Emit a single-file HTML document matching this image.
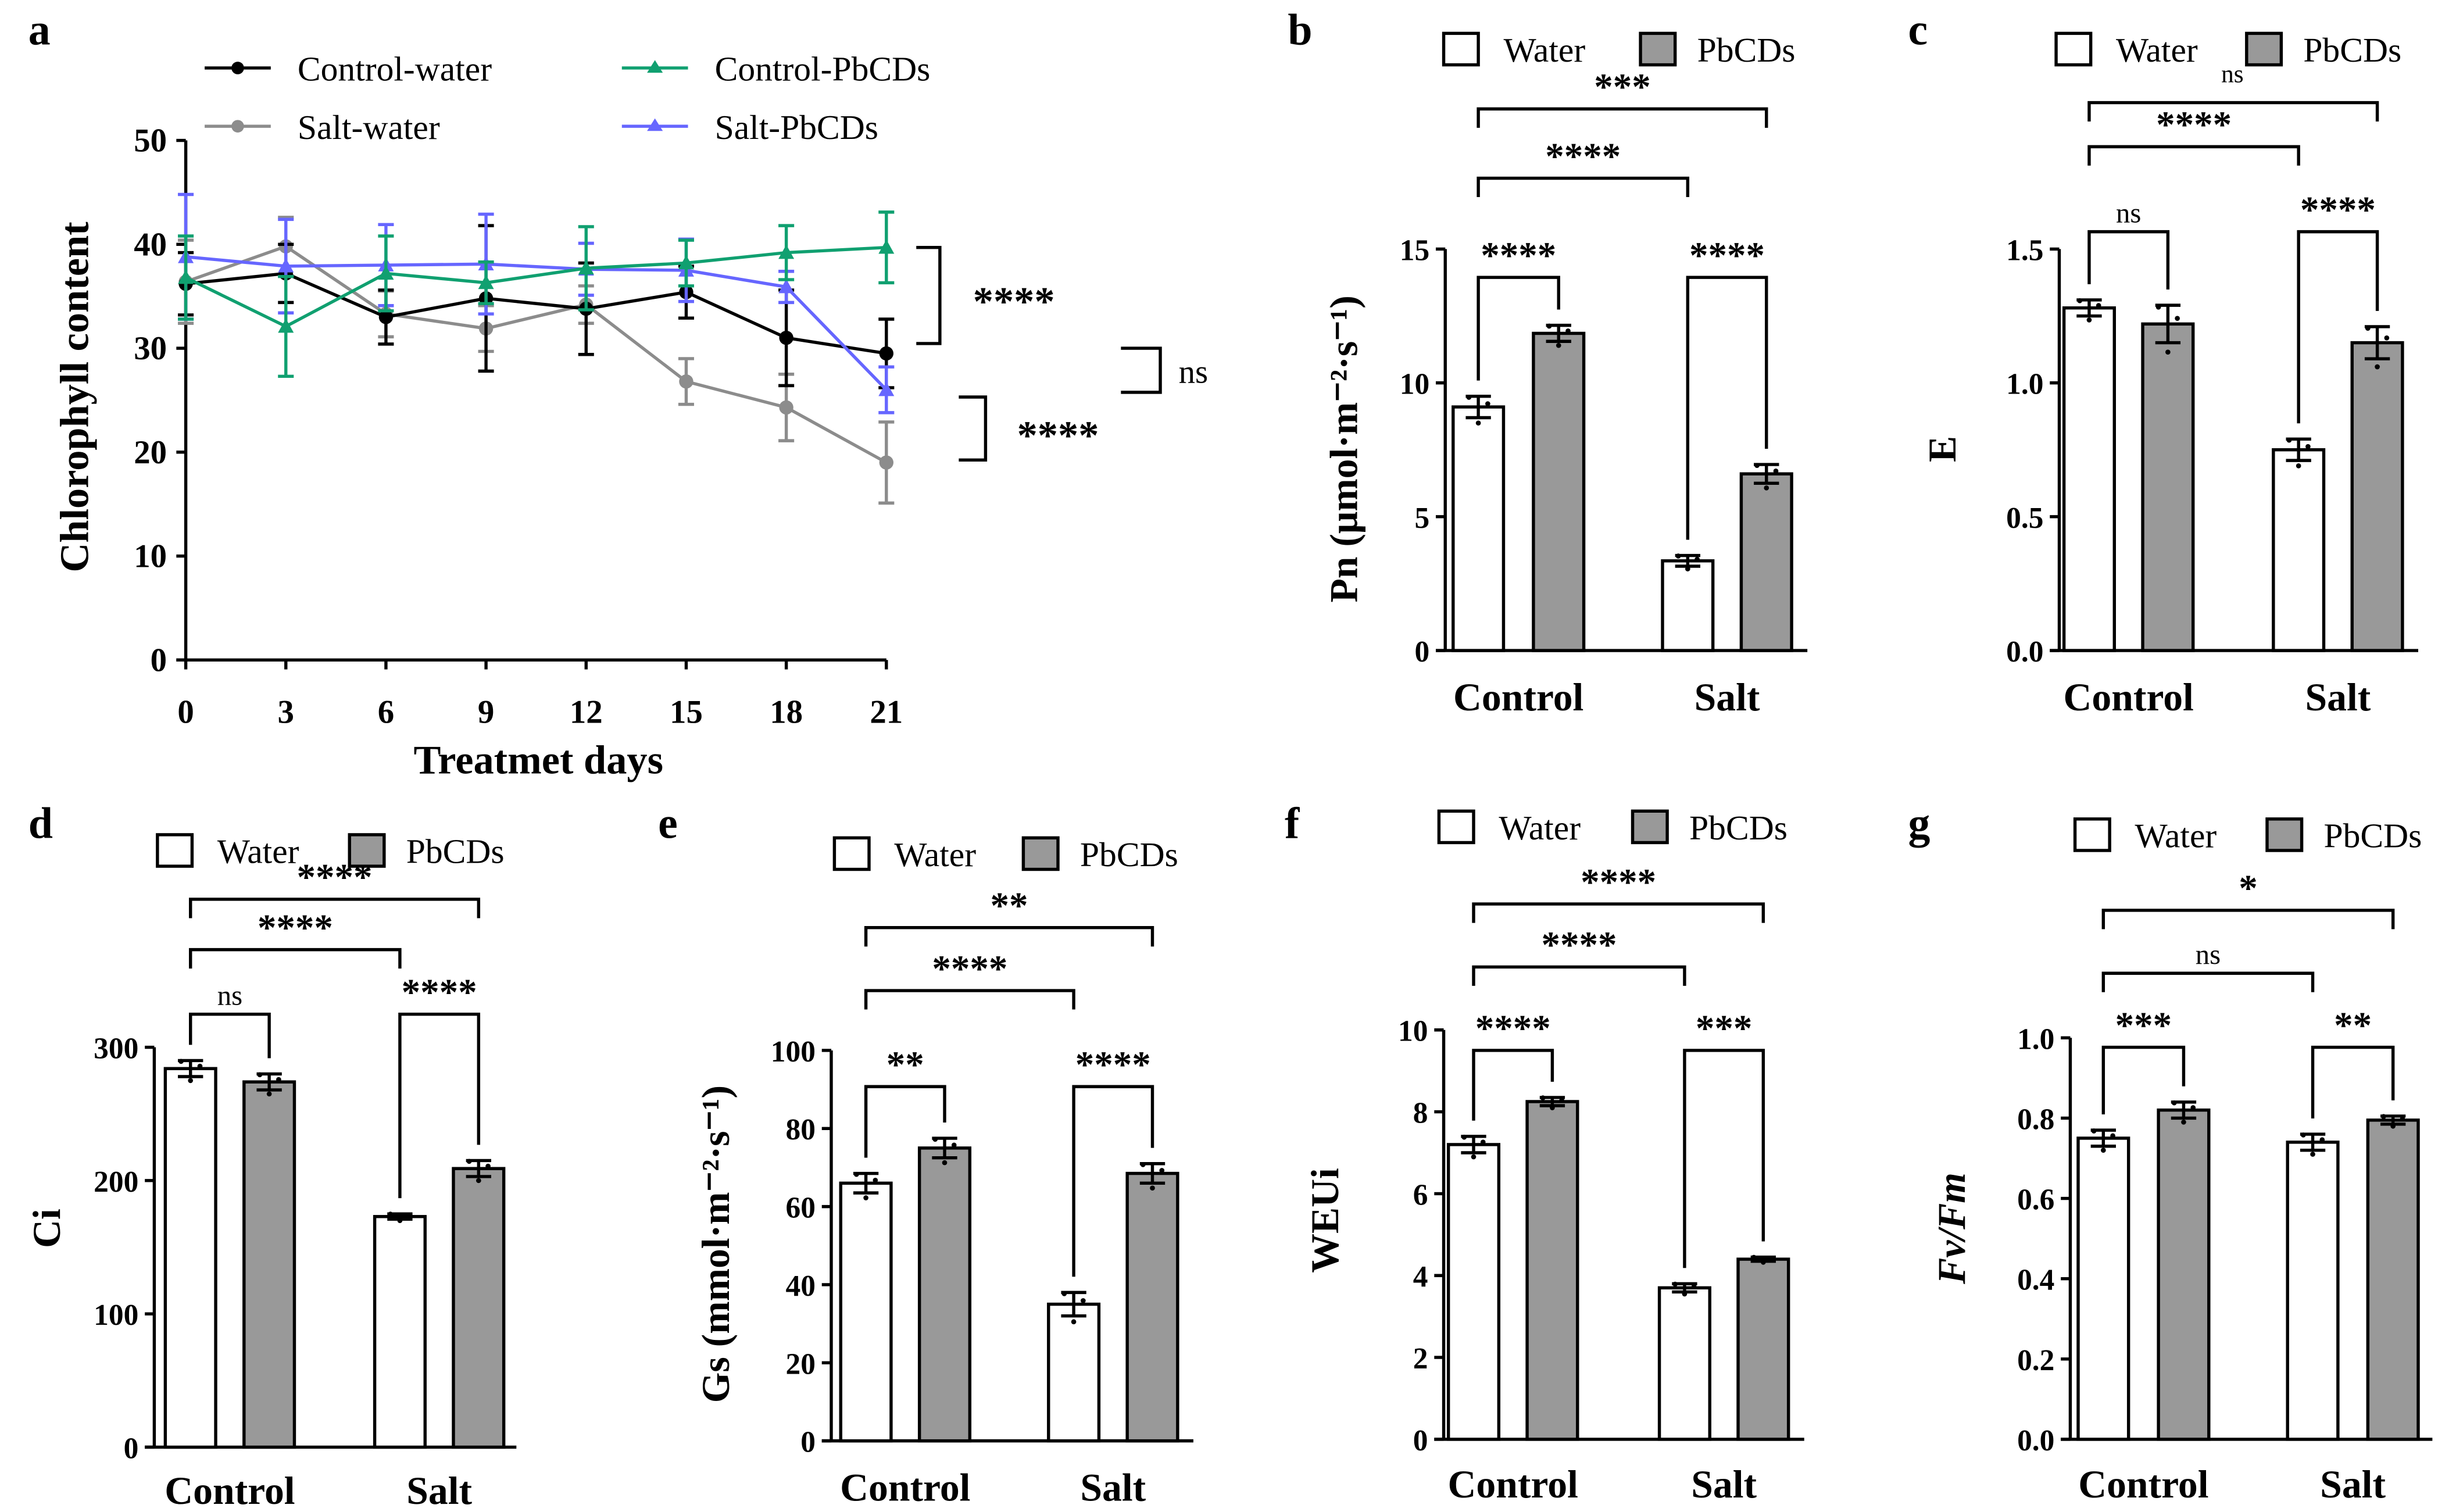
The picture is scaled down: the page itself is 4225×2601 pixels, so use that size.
<!DOCTYPE html>
<html><head><meta charset="utf-8"><style>
html,body{margin:0;padding:0;background:#fff}
svg{display:block}
text{font-family:"Liberation Serif",serif}
</style></head><body>
<svg id="fig" xmlns="http://www.w3.org/2000/svg" width="4225" height="2601" viewBox="0 0 1560 960"></svg>
<script>
// ---- Panel a data ----
const days=[0,3,6,9,12,15,18,21];
const aTicks=[0,10,20,30,40,50];
const cwVals=[36.2,37.2,33,34.8,33.8,35.4,31,29.5];
const cwErr=[3,2.8,2.6,7,4.4,2.5,4.6,3.3];
const swVals=[36.4,39.8,33.3,31.9,34.2,26.8,24.3,19];
const swErr=[4,2.8,2.2,2.2,1.8,2.2,3.2,3.9];
const cpVals=[36.8,32.1,37.2,36.3,37.7,38.2,39.2,39.7];
const cpErr=[4,4.8,3.6,2,4,2.2,2.6,3.4];
const spVals=[38.8,37.9,38,38.1,37.6,37.5,35.9,26];
const spErr=[6,4.5,3.9,4.8,2.5,3,1.5,2.2];
// ---- Bar panels data (order: Control-Water, Control-PbCDs, Salt-Water, Salt-PbCDs) ----
const groups=["Control","Salt"];
const pnVals=[9.1,11.85,3.35,6.6], pnErr=[0.4,0.3,0.2,0.35], pnTicks=[0,5,10,15];
const eVals=[1.28,1.22,0.75,1.15], eErr=[0.03,0.07,0.04,0.06], eTicks=[0,0.5,1.0,1.5];
const ciVals=[284,274,173,209], ciErr=[6,6,2,6], ciTicks=[0,100,200,300];
const gsVals=[66,75,35,68.5], gsErr=[2.5,2.5,3,2.5], gsTicks=[0,20,40,60,80,100];
const wuVals=[7.2,8.25,3.7,4.4], wuErr=[0.2,0.1,0.1,0.05], wuTicks=[0,2,4,6,8,10];
const fvVals=[0.75,0.82,0.74,0.795], fvErr=[0.02,0.02,0.02,0.01], fvTicks=[0,0.2,0.4,0.6,0.8,1.0];

const NS="http://www.w3.org/2000/svg";
const svg=document.getElementById('fig');
function el(tag,attrs,parent,txt){const e=document.createElementNS(NS,tag);for(const k in attrs)e.setAttribute(k,attrs[k]);if(txt!==undefined)e.textContent=txt;(parent||svg).appendChild(e);return e;}
function grp(name,parent){const g=el('g',{},parent);return g;}
function txt(g,x,y,s,size,opts){opts=opts||{};const t=el('text',{x:x,y:y,'font-size':size,'text-anchor':opts.anchor||'middle','font-weight':opts.bold?'bold':'normal','font-style':opts.italic?'italic':'normal',fill:'#000'},g,s);if(opts.rot)t.setAttribute('transform',`rotate(-90 ${x} ${y})`);return t;}
function line(g,x1,y1,x2,y2,c,w){return el('line',{x1,y1,x2,y2,stroke:c||'#000','stroke-width':w||2},g);}

// panel letters
[['a',18,28],['b',818,28],['c',1212,28],['d',18,532],['e',418,532],['f',816,532],['g',1212,532]].forEach(p=>{txt(svg,p[1],p[2],p[0],28,{bold:true,anchor:'start',name:'panel-letter-'+p[0]});});

// ---- Panel a ----
(function(){
const g=grp('chlorophyll-chart');
const x0=118,x1=563,y0=419,y1=89;
const X=d=>x0+(d-0)/(21)*(x1-x0);
const Y=v=>y0-(v/50)*(y0-y1);
line(g,x0,Y(50),x0,y0);line(g,x0-6,y0,x1,y0);
aTicks.forEach(t=>{line(g,x0-6,Y(t),x0,Y(t));txt(g,x0-12,Y(t)+7,String(t),21,{bold:true,anchor:'end',name:'y-tick'});});
days.forEach(d=>{line(g,X(d),y0,X(d),y0+6);txt(g,X(d),y0+40,String(d),21,{bold:true,name:'x-tick'});});
txt(g,342,491,'Treatmet days',26,{bold:true,name:'x-axis-title'});
txt(g,56,252,'Chlorophyll content',26,{bold:true,rot:true,name:'y-axis-title'});
const series=[
 {n:'salt-water',v:swVals,e:swErr,c:'#8c8c8c',m:'c'},
 {n:'control-water',v:cwVals,e:cwErr,c:'#000',m:'c'},
 {n:'salt-pbcds',v:spVals,e:spErr,c:'#6666ff',m:'t'},
 {n:'control-pbcds',v:cpVals,e:cpErr,c:'#10a070',m:'t'}];
series.forEach(s=>{
 const sg=grp('series-'+s.n,g);
 let d='';s.v.forEach((v,i)=>{d+=(i?'L':'M')+X(days[i])+','+Y(v);});
 el('path',{d,fill:'none',stroke:s.c,'stroke-width':2},sg);
 s.v.forEach((v,i)=>{const x=X(days[i]);
  line(sg,x,Y(v+s.e[i]),x,Y(v-s.e[i]),s.c,2);
  line(sg,x-5,Y(v+s.e[i]),x+5,Y(v+s.e[i]),s.c,2);line(sg,x-5,Y(v-s.e[i]),x+5,Y(v-s.e[i]),s.c,2);
  if(s.m==='c')el('circle',{cx:x,cy:Y(v),r:4.5,fill:s.c},sg);
  else el('path',{d:`M${x},${Y(v)-5}L${x+5},${Y(v)+4}L${x-5},${Y(v)+4}Z`,fill:s.c},sg);
 });
});
// legend
const lg=grp('legend',g);
[[130,43,'#000','c','Control-water'],[130,80,'#8c8c8c','c','Salt-water'],[395,43,'#10a070','t','Control-PbCDs'],[395,80,'#6666ff','t','Salt-PbCDs']].forEach(l=>{
 const eg=grp('legend-entry',lg);line(eg,l[0],l[1],l[0]+42,l[1],l[2],2);
 if(l[3]==='c')el('circle',{cx:l[0]+21,cy:l[1],r:4,fill:l[2]},eg);else el('path',{d:`M${l[0]+21},${l[1]-5}L${l[0]+26},${l[1]+3}L${l[0]+16},${l[1]+3}Z`,fill:l[2]},eg);
 txt(eg,l[0]+59,l[1]+8,l[4],22,{anchor:'start',name:'legend-label'});});
// significance
const sg=grp('significance',g);
el('path',{d:'M582,157H597V218H582',fill:'none',stroke:'#000','stroke-width':2},sg);
txt(sg,644,200,'****',26,{bold:true,name:'sig-star'});
el('path',{d:'M712,221H737V249H712',fill:'none',stroke:'#000','stroke-width':2},sg);
txt(sg,758,243,'ns',21,{name:'sig-ns'});
el('path',{d:'M609,252H626V292H609',fill:'none',stroke:'#000','stroke-width':2},sg);
txt(sg,672,285,'****',26,{bold:true,name:'sig-star'});
})();

// ---- Bar panel builder ----
function barPanel(o){
 const g=grp(o.name);
 const Y=v=>o.y0-(v/o.max)*(o.y0-o.yTop);
 line(g,o.ax,Y(o.max),o.ax,o.y0);line(g,o.ax-6,o.y0,o.axEnd,o.y0);
 o.ticks.forEach(t=>{line(g,o.ax-6,Y(t),o.ax,Y(t));txt(g,o.ax-10,Y(t)+7,o.fmt?t.toFixed(o.fmt):String(t),19,{bold:true,anchor:'end',name:'y-tick'});});
 o.cx.forEach((c,i)=>{
  const v=o.vals[i],e=o.err[i];const bg=grp('bar-'+['control-water','control-pbcds','salt-water','salt-pbcds'][i],g);
  el('rect',{x:c-16,y:Y(v),width:32,height:o.y0-Y(v),fill:i%2?'#999':'#fff',stroke:'#000','stroke-width':2},bg);
  line(bg,c,Y(v+e),c,Y(Math.max(v-e,0)));line(bg,c-8,Y(v+e),c+8,Y(v+e));line(bg,c-8,Y(v-e),c+8,Y(v-e));
  [-6,0,6].forEach((dx,k)=>{const dv=[e*0.9,-e*1.5,e*0.3][k];el('circle',{cx:c+dx,cy:Y(v+dv),r:1.6,fill:'#000'},bg);});
 });
 txt(g,(o.cx[0]+o.cx[1])/2,o.labY,groups[0],25,{bold:true,name:'x-tick'});
 txt(g,(o.cx[2]+o.cx[3])/2,o.labY,groups[1],25,{bold:true,name:'x-tick'});
 txt(g,o.ylx,o.yly,o.ylabel,25,{bold:true,rot:true,italic:o.italic,name:'y-axis-title'});
 const lg=grp('legend',g);
 el('rect',{x:o.lx[0],y:o.ly-10,width:22,height:20,fill:'#fff',stroke:'#000','stroke-width':2},lg);
 txt(lg,o.lx[0]+38,o.ly+8,'Water',22,{anchor:'start',name:'legend-label'});
 el('rect',{x:o.lx[1],y:o.ly-10,width:22,height:20,fill:'#999',stroke:'#000','stroke-width':2},lg);
 txt(lg,o.lx[1]+36,o.ly+8,'PbCDs',22,{anchor:'start',name:'legend-label'});
 const sgp=grp('significance',g);
 const top=i=>Y(o.vals[i]+o.err[i])-10;
 function br(a,b,y,la,lb,s){el('path',{d:`M${o.cx[a]},${la}V${y}H${o.cx[b]}V${lb}`,fill:'none',stroke:'#000','stroke-width':2},sgp);
  txt(sgp,(o.cx[a]+o.cx[b])/2,y-6,s,s==='ns'?18:24,{bold:s!=='ns',name:'sig-label'});}
 br(0,3,o.b1,o.b1+12,o.b1+12,o.s[0]);
 br(0,2,o.b2,o.b2+12,o.b2+12,o.s[1]);
 br(0,1,o.b3,top(0),top(1),o.s[2]);
 br(2,3,o.b3,top(2),top(3),o.s[3]);
}
barPanel({name:'pn-chart',ax:918,axEnd:1148,y0:413,yTop:158,max:15,ticks:pnTicks,vals:pnVals,err:pnErr,cx:[939,990,1072,1122],labY:451,ylabel:'Pn (μmol·m⁻²·s⁻¹)',ylx:862,yly:285,lx:[917,1042],ly:31,b1:69,b2:113,b3:176,s:['***','****','****','****']});
barPanel({name:'e-chart',ax:1308,axEnd:1536,y0:413,yTop:158,max:1.5,fmt:1,ticks:eTicks,vals:eVals,err:eErr,cx:[1327,1377,1460,1510],labY:451,ylabel:'E',ylx:1242,yly:285,lx:[1306,1427],ly:31,b1:65,b2:93,b3:147,s:['','****','ns','****']});
txt(svg,1418,52,'ns',16,{name:'sig-ns'});
barPanel({name:'ci-chart',ax:98,axEnd:328,y0:919,yTop:665,max:300,ticks:ciTicks,vals:ciVals,err:ciErr,cx:[121,171,254,304],labY:955,ylabel:'Ci',ylx:38,yly:780,lx:[100,222],ly:540,b1:571,b2:603,b3:644,s:['****','****','ns','****']});
barPanel({name:'gs-chart',ax:528,axEnd:758,y0:915,yTop:667,max:100,ticks:gsTicks,vals:gsVals,err:gsErr,cx:[550,600,682,732],labY:953,ylabel:'Gs (mmol·m⁻²·s⁻¹)',ylx:463,yly:790,lx:[530,650],ly:542,b1:589,b2:629,b3:690,s:['**','****','**','****']});
barPanel({name:'wuei-chart',ax:917,axEnd:1146,y0:914,yTop:654,max:10,ticks:wuTicks,vals:wuVals,err:wuErr,cx:[936,986,1070,1120],labY:951,ylabel:'WEUi',ylx:850,yly:775,lx:[914,1037],ly:525,b1:574,b2:614,b3:667,s:['****','****','****','***']});
barPanel({name:'fvfm-chart',ax:1315,axEnd:1545,y0:914,yTop:659,max:1.0,fmt:1,ticks:fvTicks,vals:fvVals,err:fvErr,cx:[1336,1387,1469,1520],labY:951,ylabel:'Fv/Fm',italic:true,ylx:1248,yly:780,lx:[1318,1440],ly:530,b1:578,b2:618,b3:665,s:['*','ns','***','**']});
</script>
</body></html>
